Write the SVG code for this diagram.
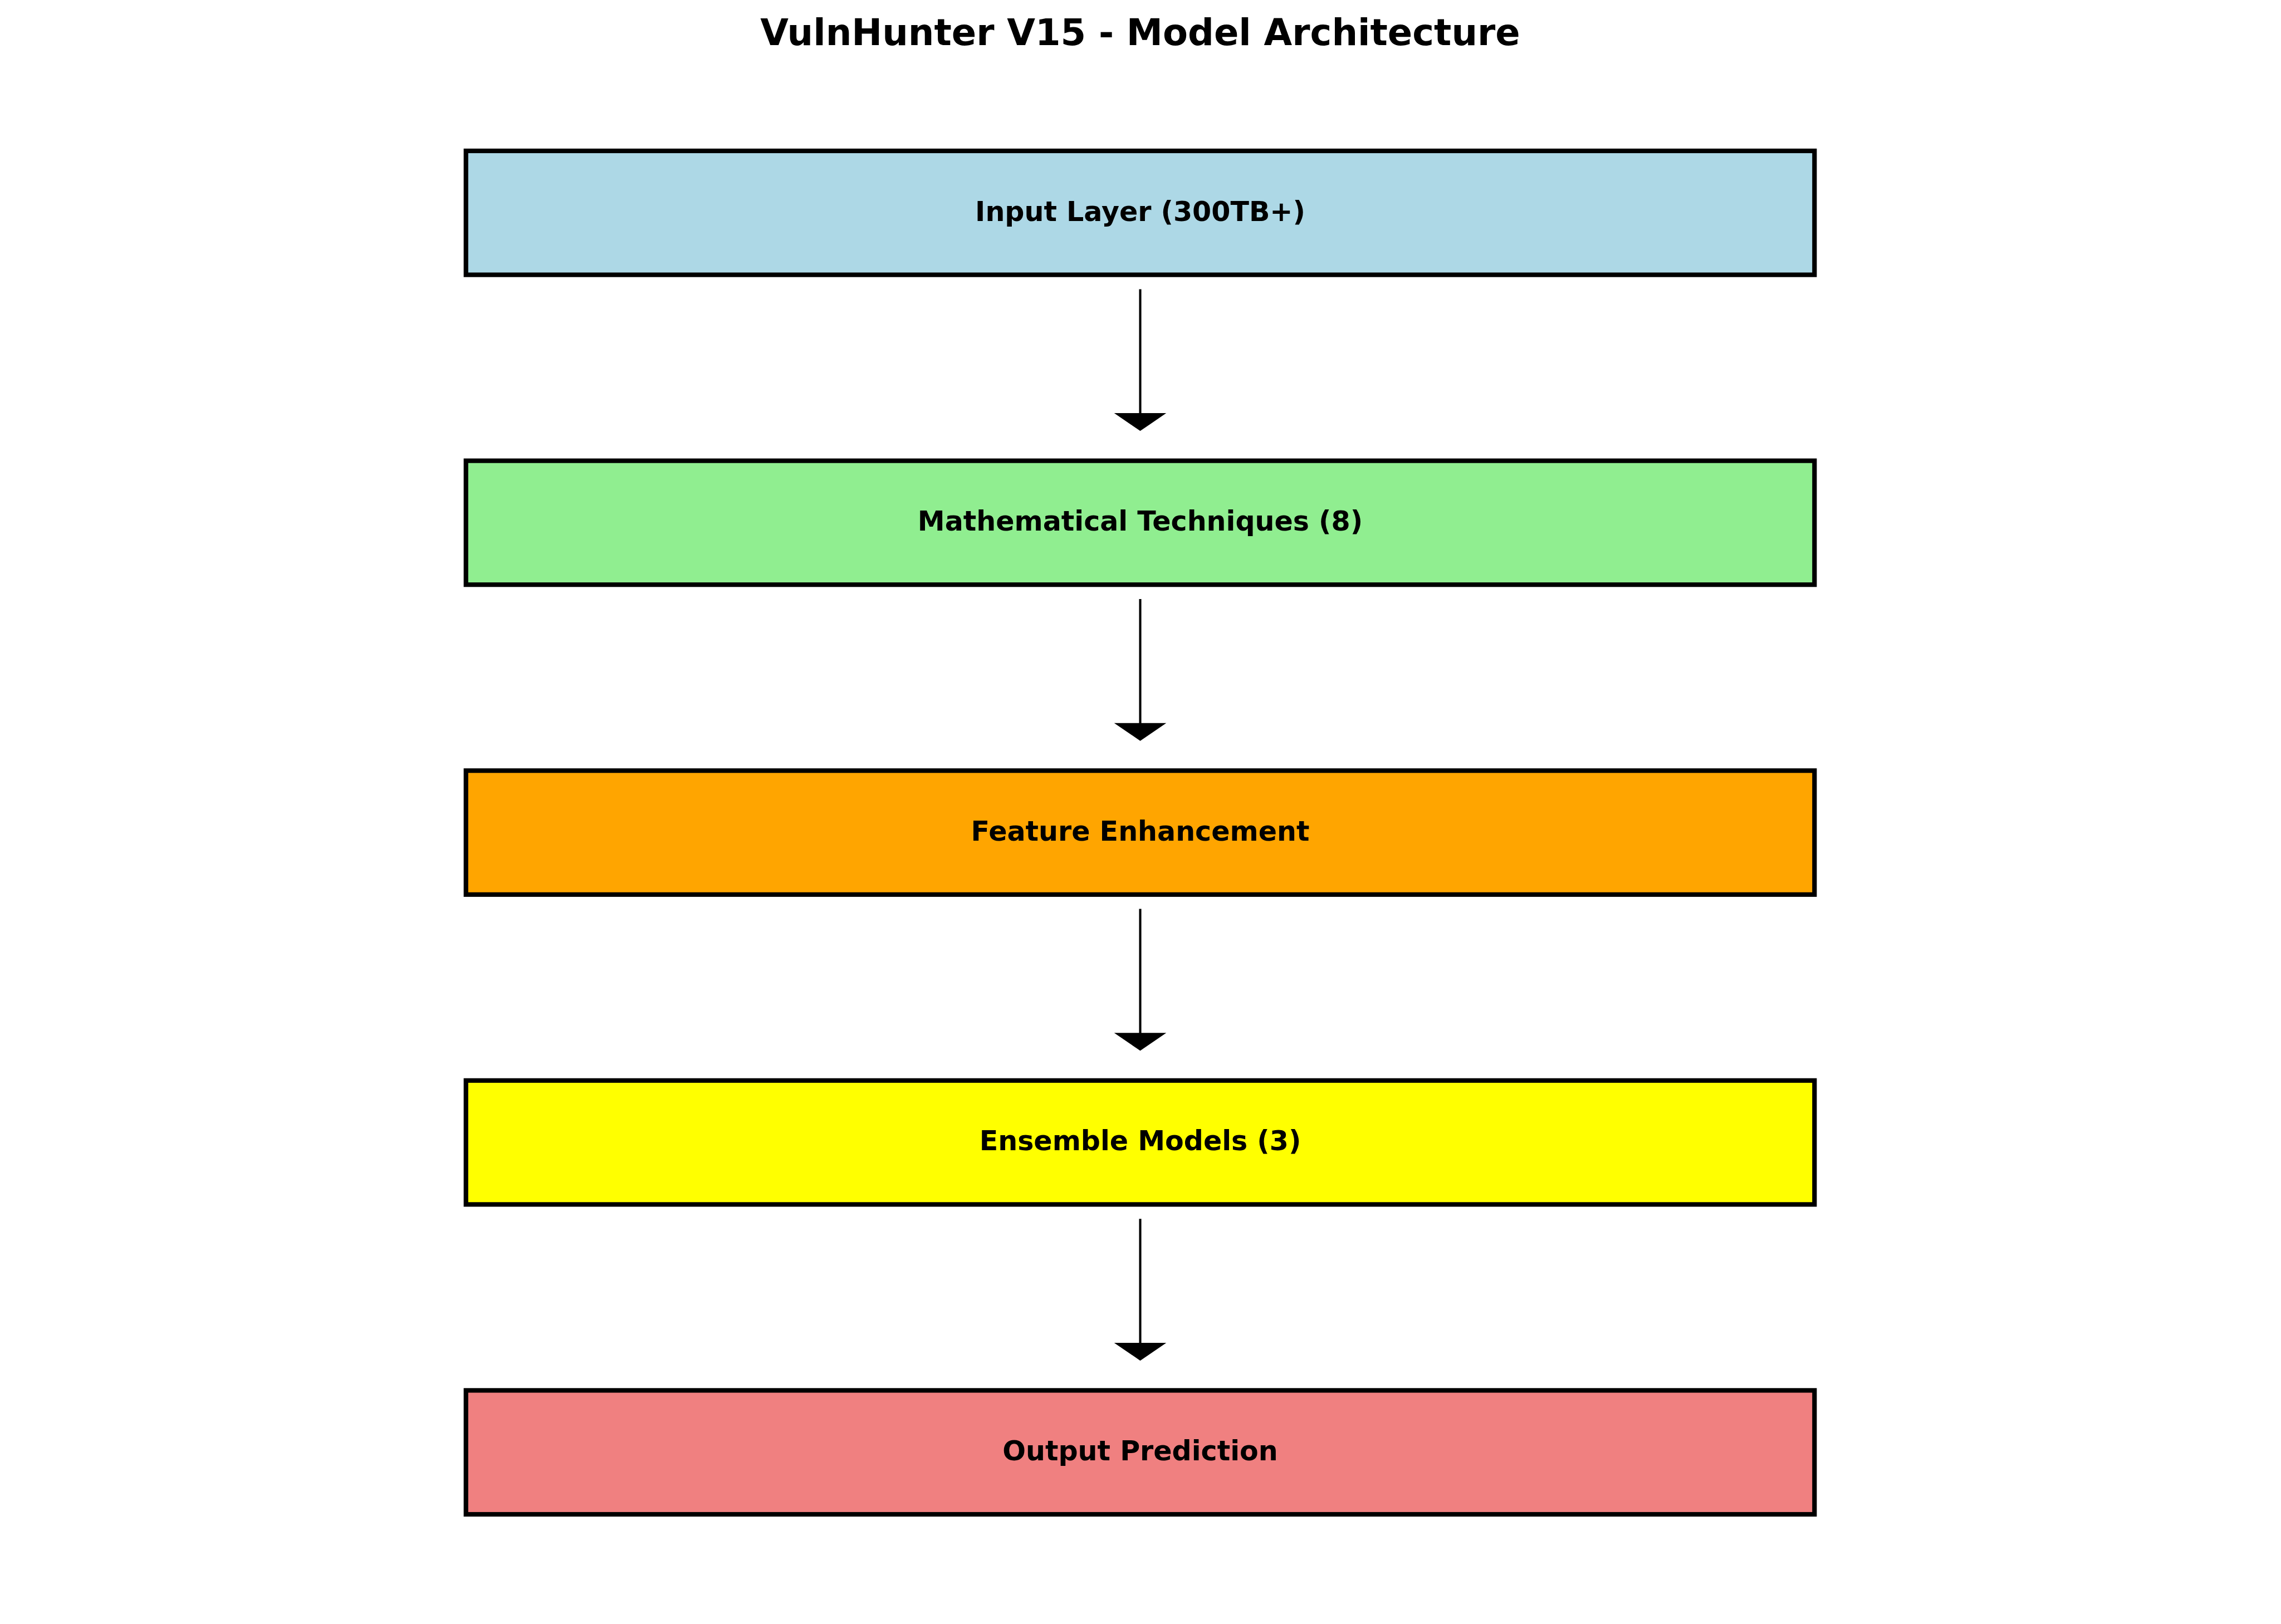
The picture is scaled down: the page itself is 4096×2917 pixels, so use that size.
<svg xmlns="http://www.w3.org/2000/svg" width="4096" height="2917" viewBox="0 0 4096 2917">
<style>
.box{stroke:#000;stroke-width:8.2}
.lbl{font-family:"DejaVu Sans",sans-serif;font-weight:bold;font-size:49.1px;text-anchor:middle;fill:#000}
.title{font-family:"DejaVu Sans",sans-serif;font-weight:bold;font-size:65.5px;text-anchor:middle;fill:#000}
.ln{stroke:#000;stroke-width:4.1;fill:none}
.hd{fill:#000;stroke:none}
</style>
<rect x="0" y="0" width="4096" height="2917" fill="#fff"/>
<text class="title" x="2047.5" y="80.8">VulnHunter V15 - Model Architecture</text>
<g id="node-input">
<rect class="box" x="836.7" y="271" width="2421.6" height="222.6" fill="#ADD8E6"/>
<text class="lbl" x="2047.5" y="396.6">Input Layer (300TB+)</text>
</g>
<g id="node-math">
<rect class="box" x="836.7" y="827.6" width="2421.6" height="222.6" fill="#90EE90"/>
<text class="lbl" x="2047.5" y="953.2">Mathematical Techniques (8)</text>
</g>
<g id="node-feature">
<rect class="box" x="836.7" y="1384.2" width="2421.6" height="222.6" fill="#FFA500"/>
<text class="lbl" x="2047.5" y="1509.8">Feature Enhancement</text>
</g>
<g id="node-ensemble">
<rect class="box" x="836.7" y="1940.8" width="2421.6" height="222.6" fill="#FFFF00"/>
<text class="lbl" x="2047.5" y="2066.4">Ensemble Models (3)</text>
</g>
<g id="node-output">
<rect class="box" x="836.7" y="2497.4" width="2421.6" height="222.6" fill="#F08080"/>
<text class="lbl" x="2047.5" y="2623">Output Prediction</text>
</g>
<g id="connectors">
<line class="ln" x1="2047.5" y1="519.4" x2="2047.5" y2="743"/>
<polygon class="hd" points="2000.7,742.1 2094.3,742.1 2047.5,774.1"/>
<line class="ln" x1="2047.5" y1="1076" x2="2047.5" y2="1299.6"/>
<polygon class="hd" points="2000.7,1298.7 2094.3,1298.7 2047.5,1330.7"/>
<line class="ln" x1="2047.5" y1="1632.6" x2="2047.5" y2="1856.2"/>
<polygon class="hd" points="2000.7,1855.3 2094.3,1855.3 2047.5,1887.3"/>
<line class="ln" x1="2047.5" y1="2189.2" x2="2047.5" y2="2412.8"/>
<polygon class="hd" points="2000.7,2411.9 2094.3,2411.9 2047.5,2443.9"/>
</g>
</svg>
